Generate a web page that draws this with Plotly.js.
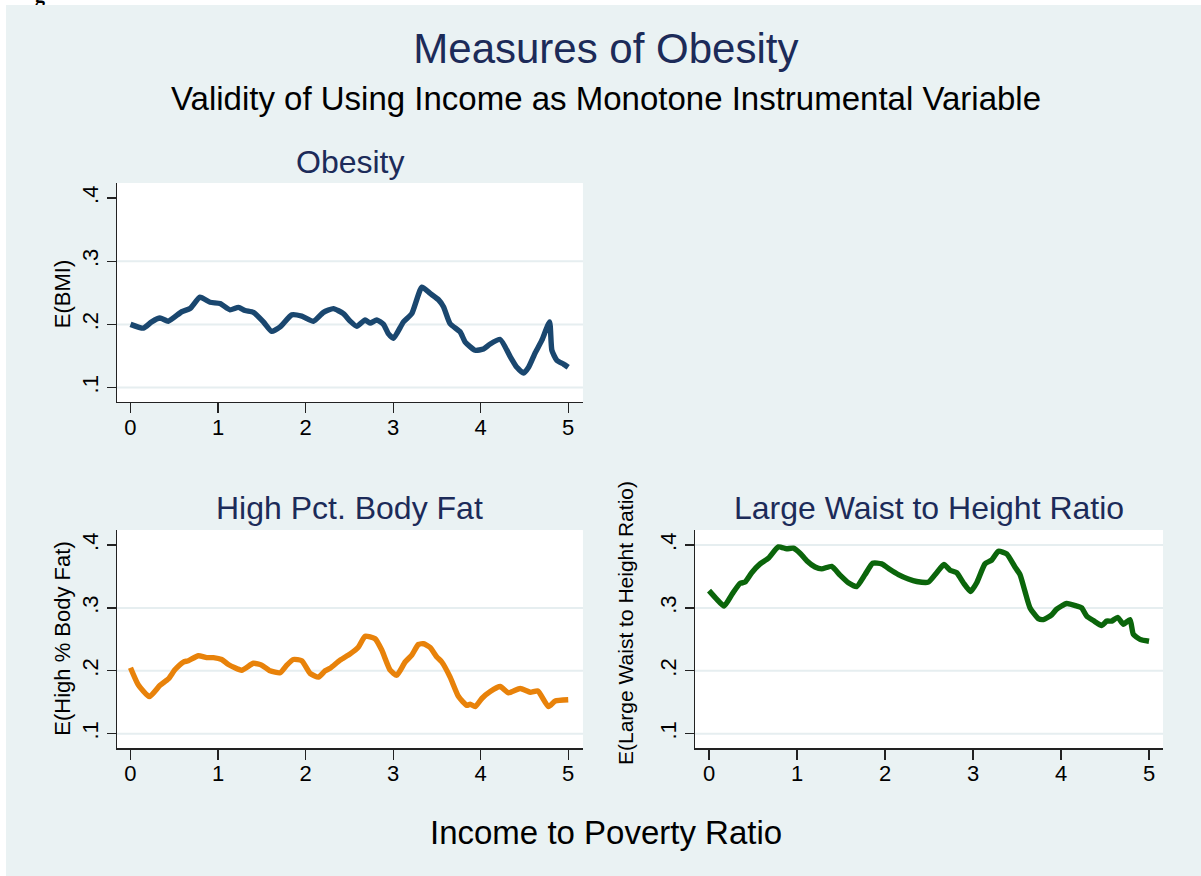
<!DOCTYPE html>
<html>
<head>
<meta charset="utf-8">
<script src="https://cdn.plot.ly/plotly-3.0.1.min.js"></script>
<style>
  html, body { margin: 0; padding: 0; background: #ffffff; width: 1201px; height: 876px; overflow: hidden; }
  #frag { position: absolute; left: 35px; top: -16px; font: bold 20px "Liberation Serif", serif; color: #000; }
  #chart { position: absolute; left: 6px; top: 5px; width: 1195px; height: 871px; }
</style>
</head>
<body>
<div id="frag">g</div>
<div id="chart"></div>
<script>
// ---- data ----
const obesityX = [0, 0.146, 0.242, 0.337, 0.432, 0.585, 0.680, 0.794, 0.909, 1.023, 1.137, 1.233, 1.309, 1.404, 1.518, 1.613, 1.709, 1.842, 1.956, 2.09, 2.204, 2.318, 2.432, 2.51, 2.585, 2.68, 2.737, 2.813, 2.89, 2.947, 3.004, 3.118, 3.213, 3.328, 3.423, 3.518, 3.575, 3.651, 3.766, 3.823, 3.937, 4.032, 4.109, 4.223, 4.337, 4.413, 4.490, 4.547, 4.623, 4.699, 4.787, 4.813, 4.870, 4.947, 5.0];
const obesityY = [0.200, 0.194, 0.204, 0.210, 0.205, 0.220, 0.225, 0.243, 0.235, 0.233, 0.223, 0.227, 0.222, 0.219, 0.204, 0.189, 0.196, 0.215, 0.213, 0.205, 0.219, 0.225, 0.217, 0.205, 0.197, 0.207, 0.202, 0.207, 0.200, 0.185, 0.178, 0.204, 0.217, 0.259, 0.249, 0.239, 0.228, 0.201, 0.188, 0.172, 0.159, 0.161, 0.169, 0.176, 0.149, 0.132, 0.123, 0.132, 0.155, 0.175, 0.204, 0.159, 0.143, 0.137, 0.132];

const bodyFatX = [0, 0.088, 0.215, 0.337, 0.432, 0.509, 0.604, 0.661, 0.775, 0.87, 0.947, 1.042, 1.118, 1.27, 1.404, 1.499, 1.594, 1.709, 1.785, 1.861, 1.956, 2.051, 2.147, 2.223, 2.28, 2.394, 2.509, 2.604, 2.68, 2.794, 2.87, 2.966, 3.042, 3.137, 3.213, 3.289, 3.347, 3.423, 3.499, 3.556, 3.651, 3.747, 3.842, 3.88, 3.937, 4.013, 4.109, 4.223, 4.318, 4.451, 4.566, 4.653, 4.775, 4.851, 5.0];
const bodyFatY = [0.205, 0.178, 0.159, 0.177, 0.187, 0.202, 0.214, 0.216, 0.224, 0.221, 0.221, 0.218, 0.210, 0.201, 0.212, 0.209, 0.200, 0.197, 0.209, 0.218, 0.216, 0.196, 0.190, 0.200, 0.204, 0.217, 0.227, 0.238, 0.255, 0.251, 0.233, 0.201, 0.193, 0.214, 0.225, 0.242, 0.243, 0.237, 0.222, 0.214, 0.190, 0.159, 0.145, 0.147, 0.143, 0.156, 0.167, 0.175, 0.165, 0.172, 0.166, 0.168, 0.143, 0.152, 0.154];

const waistX = [0, 0.087, 0.171, 0.258, 0.352, 0.409, 0.485, 0.58, 0.674, 0.788, 0.883, 0.958, 1.034, 1.11, 1.205, 1.28, 1.394, 1.489, 1.583, 1.678, 1.773, 1.86, 1.962, 2.057, 2.152, 2.265, 2.36, 2.492, 2.587, 2.67, 2.739, 2.814, 2.89, 2.973, 3.042, 3.136, 3.212, 3.288, 3.383, 3.477, 3.534, 3.591, 3.648, 3.742, 3.8, 3.894, 3.951, 4.064, 4.178, 4.235, 4.292, 4.367, 4.462, 4.519, 4.576, 4.644, 4.708, 4.784, 4.822, 4.898, 5.0];
const waistY = [0.3275, 0.314, 0.303, 0.321, 0.339, 0.341, 0.356, 0.370, 0.379, 0.397, 0.394, 0.395, 0.387, 0.375, 0.365, 0.362, 0.366, 0.352, 0.340, 0.334, 0.353, 0.371, 0.370, 0.361, 0.353, 0.346, 0.342, 0.341, 0.356, 0.369, 0.360, 0.356, 0.340, 0.326, 0.340, 0.370, 0.376, 0.390, 0.386, 0.365, 0.353, 0.326, 0.300, 0.283, 0.2815, 0.289, 0.298, 0.307, 0.303, 0.300, 0.287, 0.280, 0.272, 0.279, 0.279, 0.285, 0.274, 0.2815, 0.258, 0.250, 0.247];

const xTickVals = [0, 1, 2, 3, 4, 5];
const yTickVals = [0.1, 0.2, 0.3, 0.4];
const yTickText = ['.1', '.2', '.3', '.4'];
const gridTop = [0.1, 0.2, 0.3];          // gridlines drawn in left panels
const gridRight = [0.1, 0.2, 0.3, 0.4];   // gridlines drawn in right panel

const mainTitle = 'Measures of Obesity';
const subTitle = 'Validity of Using Income as Monotone Instrumental Variable';
const xTitle = 'Income to Poverty Ratio';
const panelTitles = ['Obesity', 'High Pct. Body Fat', 'Large Waist to Height Ratio'];
const yTitles = ['E(BMI)', 'E(High % Body Fat)', 'E(Large Waist to Height Ratio)'];

// ---- styling ----
const FONT = 'Liberation Sans, Arial, Helvetica, sans-serif';
const NAVY_TXT = '#1c2b59';
const BG = '#eaf2f3';
const GRID = '#e6eef0';

function line(x, y, color, xa, ya) {
  return { x: x, y: y, type: 'scatter', mode: 'lines', xaxis: xa, yaxis: ya,
           line: { color: color, width: 5.4, shape: 'spline', smoothing: 0.5 },
           hoverinfo: 'skip', showlegend: false };
}

const data = [
  line(obesityX, obesityY, '#1a476f', 'x', 'y'),
  line(bodyFatX, bodyFatY, '#e8820a', 'x2', 'y2'),
  line(waistX, waistY, '#0b650b', 'x3', 'y3')
];

function xax(domain, range, anchor) {
  return { domain: domain, range: range, anchor: anchor, tickvals: xTickVals,
           ticks: 'outside', ticklen: 10, tickwidth: 1.2, tickcolor: '#222',
           ticklabelstandoff: -5,
           showline: true, linecolor: '#222', linewidth: 1.2,
           showgrid: false, zeroline: false,
           tickfont: { family: FONT, size: 22, color: '#000' } };
}
function yax(domain, range, anchor) {
  return { domain: domain, range: range, anchor: anchor,
           tickvals: yTickVals, ticktext: yTickText, tickangle: -90,
           ticks: 'outside', ticklen: 9, tickwidth: 1.2, tickcolor: '#222',
           showline: true, linecolor: '#222', linewidth: 1.2,
           showgrid: false, zeroline: false,
           tickfont: { family: FONT, size: 22, color: '#000' } };
}

const shapes = [];
function grid(vals, xref, yref) {
  vals.forEach(v => shapes.push({ type: 'line', xref: xref + ' domain', x0: 0, x1: 1,
    yref: yref, y0: v, y1: v, layer: 'below', line: { color: GRID, width: 2 } }));
}
grid(gridTop, 'x', 'y');
grid(gridTop, 'x2', 'y2');
grid(gridRight, 'x3', 'y3');

const annotations = [
  { text: subTitle, xref: 'paper', yref: 'paper', x: 0.502, y: 0.8932, showarrow: false,
    xanchor: 'center', yanchor: 'middle', font: { family: FONT, size: 33, color: '#000' } },
  { text: xTitle, xref: 'paper', yref: 'paper', x: 0.502, y: 0.0494, showarrow: false,
    xanchor: 'center', yanchor: 'middle', font: { family: FONT, size: 33, color: '#000' } },
  { text: panelTitles[0], xref: 'x domain', yref: 'paper', x: 0.5, y: 0.8197, showarrow: false,
    xanchor: 'center', yanchor: 'middle', font: { family: FONT, size: 32, color: NAVY_TXT } },
  { text: panelTitles[1], xref: 'x2 domain', yref: 'paper', x: 0.5, y: 0.4225, showarrow: false,
    xanchor: 'center', yanchor: 'middle', font: { family: FONT, size: 32, color: NAVY_TXT } },
  { text: panelTitles[2], xref: 'x3 domain', yref: 'paper', x: 0.5, y: 0.4225, showarrow: false,
    xanchor: 'center', yanchor: 'middle', font: { family: FONT, size: 32, color: NAVY_TXT } },
  { text: yTitles[0], xref: 'paper', yref: 'y domain', x: 0.0473, y: 0.49, textangle: -90, showarrow: false,
    xanchor: 'center', yanchor: 'middle', font: { family: FONT, size: 22, color: '#000' } },
  { text: yTitles[1], xref: 'paper', yref: 'y2 domain', x: 0.0473, y: 0.5, textangle: -90, showarrow: false,
    xanchor: 'center', yanchor: 'middle', font: { family: FONT, size: 22, color: '#000' } },
  { text: yTitles[2], xref: 'paper', yref: 'y3 domain', x: 0.518, y: 0.574, textangle: -90, showarrow: false,
    xanchor: 'center', yanchor: 'middle', font: { family: FONT, size: 21, color: '#000' } }
];

const layout = {
  width: 1195, height: 871,
  margin: { l: 0, r: 0, t: 0, b: 0 },
  paper_bgcolor: BG, plot_bgcolor: '#ffffff',
  title: { text: mainTitle, x: 0.502, xanchor: 'center', y: 0.9506, yanchor: 'middle',
           font: { family: FONT, size: 42, color: NAVY_TXT } },
  xaxis: xax([0.0929, 0.4828], [-0.154, 5.168], 'y'),
  yaxis: yax([0.5442, 0.7956], [0.0771, 0.4238], 'x'),
  xaxis2: xax([0.0929, 0.4828], [-0.154, 5.168], 'y2'),
  yaxis2: yax([0.1466, 0.3972], [0.0768, 0.4238], 'x2'),
  xaxis3: xax([0.5766, 0.9682], [-0.159, 5.159], 'y3'),
  yaxis3: yax([0.1466, 0.3972], [0.0768, 0.4238], 'x3'),
  shapes: shapes,
  annotations: annotations,
  showlegend: false
};

Plotly.newPlot('chart', data, layout, { displayModeBar: false, staticPlot: true });
</script>
</body>
</html>
